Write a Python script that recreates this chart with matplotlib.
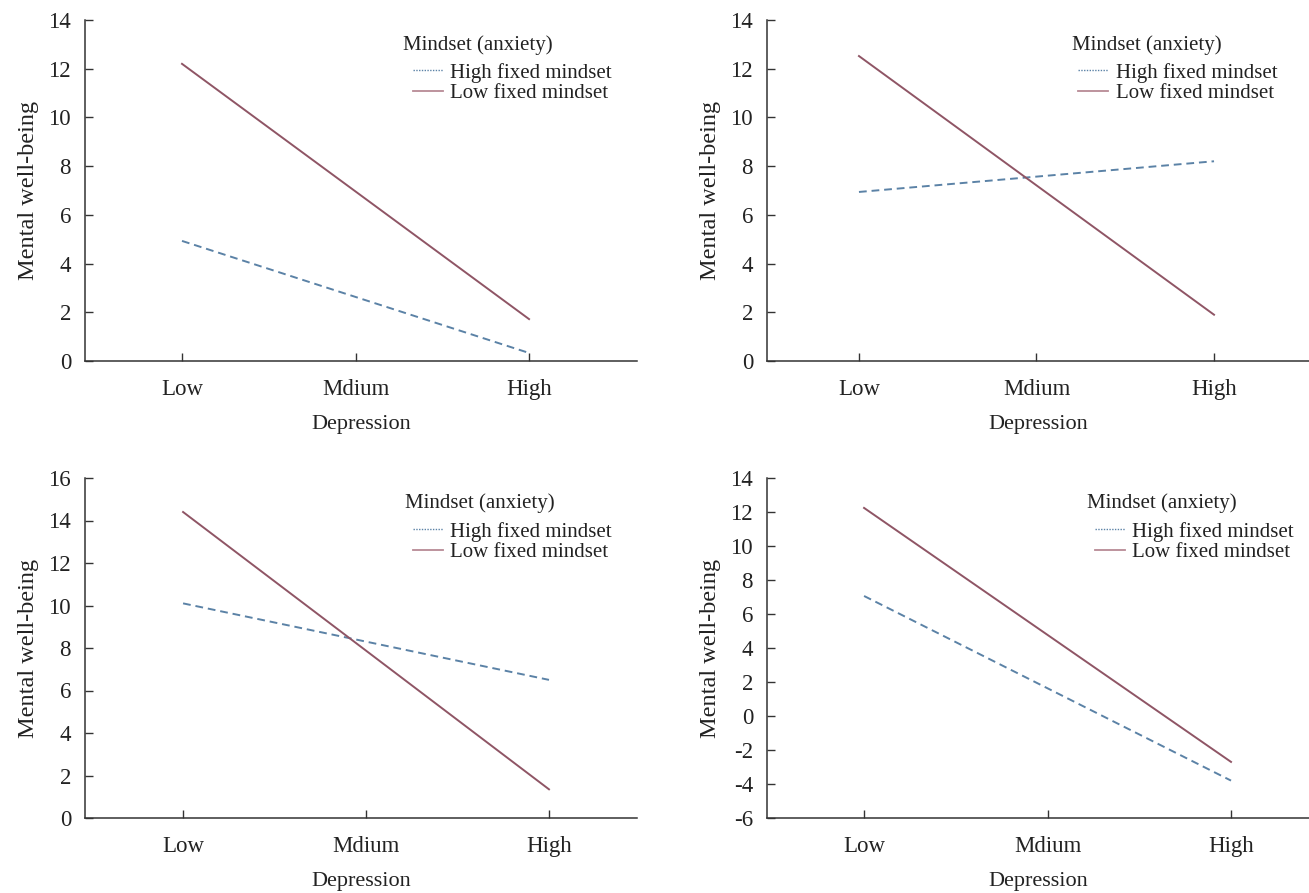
import matplotlib
matplotlib.use("Agg")
import matplotlib.pyplot as plt
from matplotlib.lines import Line2D

plt.rcParams['font.family'] = ['Liberation Serif', 'DejaVu Serif']
plt.rcParams['axes.unicode_minus'] = False

categories = ['Low', 'Mdium', 'High']
x_ends = [0, 2]

high_fixed = [
    [4.93, 0.33],
    [6.94, 8.2],
    [10.1, 6.5],
    [7.06, -3.8],
]
low_fixed = [
    [12.2, 1.72],
    [12.52, 1.9],
    [14.4, 1.35],
    [12.24, -2.7],
]
y_ranges = [(0, 14), (0, 14), (0, 16), (-6, 14)]
x_ranges = [(-0.559, 2.622), (-0.518, 2.535), (-0.536, 2.481), (-0.529, 2.425)]

W, H = 1309, 893
# axes boxes in pixels: left, right, top, bottom
boxes = [(85, 637, 20, 361), (767, 1309, 20, 361),
         (85, 637, 478, 818), (767, 1309, 478, 818)]
# title left x, title centre y, handle left x, centre y of the two entries
legend_pos = [(403, 45, 413, 83), (1072, 45, 1078, 83),
              (405, 503, 413, 542), (1087, 503, 1095, 542)]

blue = '#5b82a6'
red = '#8f5565'
axis_col = '#333333'
txt_col = '#222222'

fig = plt.figure(figsize=(W / 100, H / 100), dpi=100)

for i in range(4):
    l, r, t, b = boxes[i]
    ax = fig.add_axes([l / W, 1 - b / H, (r - l) / W, (b - t) / H])
    ax.plot(x_ends, high_fixed[i], color=blue, lw=1.4, linestyle=(0, (4, 2.5)))
    ax.plot(x_ends, low_fixed[i], color=red, lw=1.4)
    ax.set_xlim(*x_ranges[i])
    lo, hi = y_ranges[i]
    ax.set_ylim(lo, hi)
    ax.set_yticks(range(lo, hi + 1, 2))
    ax.set_xticks(range(len(categories)))
    ax.set_xticklabels(categories)
    for s in ['top', 'right']:
        ax.spines[s].set_visible(False)
    for s in ['left', 'bottom']:
        ax.spines[s].set_color(axis_col)
        ax.spines[s].set_linewidth(1.1)
    ax.tick_params(direction='in', length=6, width=1.0, color=axis_col,
                   labelsize=16.5, labelcolor=txt_col)
    ax.tick_params(axis='x', pad=13)
    ax.tick_params(axis='y', pad=10)
    ax.set_xlabel('Depression', fontsize=16, color=txt_col, labelpad=11)
    ax.set_ylabel('Mental well-being', fontsize=17.5, color=txt_col, labelpad=7)

    tx, ty, hx, hy = legend_pos[i]
    fig.text(tx / W, 1 - ty / H, 'Mindset (anxiety)', fontsize=15,
             color=txt_col, ha='left', va='center')
    handles = [Line2D([], [], color=blue, lw=1.0, linestyle=(0, (1, 1))),
               Line2D([], [], color='#b88a95', lw=1.3)]
    leg = ax.legend(handles, ['High fixed mindset', 'Low fixed mindset'],
                    loc='center left', bbox_to_anchor=(hx / W, 1 - hy / H),
                    bbox_transform=fig.transFigure, frameon=False,
                    fontsize=15, borderpad=0, borderaxespad=0,
                    handlelength=1.45, handletextpad=0.35, labelspacing=0.05)
    for txt in leg.get_texts():
        txt.set_color(txt_col)

fig.savefig('out.png', dpi=100)
